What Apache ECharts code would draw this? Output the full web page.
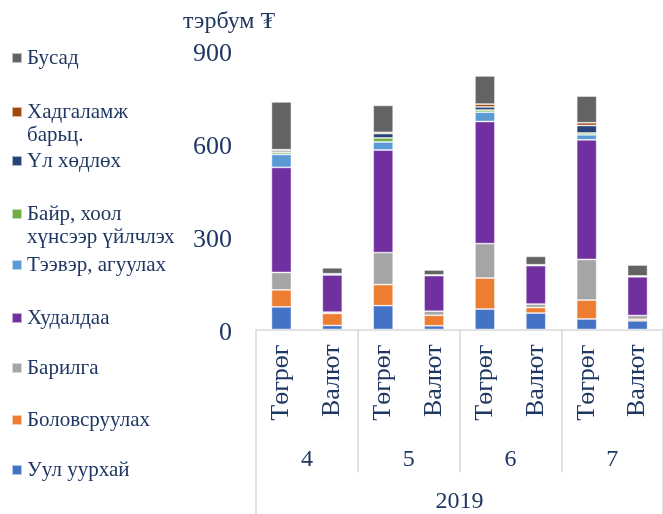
<!DOCTYPE html>
<html>
<head>
<meta charset="utf-8">
<script src="https://cdn.jsdelivr.net/npm/echarts@6/dist/echarts.min.js"></script>
<style>
  html, body { margin: 0; padding: 0; background: #fff; }
  #chart { width: 663px; height: 514px; }
</style>
</head>
<body>
<div id="chart"></div>
<script>
var categories = ['Төгрөг', 'Валют', 'Төгрөг', 'Валют', 'Төгрөг', 'Валют', 'Төгрөг', 'Валют'];
var months = ['4', '5', '6', '7'];
var years = ['2019'];
var yTicks = [0, 300, 600, 900];

// stacked from bottom to top
var seriesNames = ['Уул уурхай', 'Боловсруулах', 'Барилга', 'Худалдаа', 'Тээвэр, агуулах',
    'Байр, хоол хүнсээр үйлчлэх', 'Үл хөдлөх', 'Хадгаламж барьц.', 'Бусад'];
var uulUurhai   = [73, 13, 77, 12, 66, 53, 34, 28];
var bolovsruulah = [55, 39, 68, 34, 100, 18, 61, 5];
var barilga     = [56, 4, 103, 13, 111, 11, 131, 12];
var hudaldaa    = [339, 120, 331, 115, 394, 124, 386, 125];
var teever      = [42, 4, 26, 2, 30, 3, 16, 3];
var bair        = [6, 0, 13, 0, 7, 0, 6, 0];
var ulHudluh    = [5, 0, 14, 0, 10, 0, 24, 0];
var hadgalamj   = [4, 0, 4, 0, 9, 0, 9, 0];
var busad       = [154, 19, 87, 16, 91, 27, 86, 35];
var seriesValues = [uulUurhai, bolovsruulah, barilga, hudaldaa, teever, bair, ulHudluh, hadgalamj, busad];

var colors = ['#4472C4', '#ED7D31', '#A5A5A5', '#7030A0', '#5B9BD5', '#70AD47', '#264478', '#9E480E', '#636363'];
var font = "'Liberation Serif', 'DejaVu Serif', serif";
var textColor = '#1f3763';
var lineColor = '#d9d9d9';

var series = seriesNames.map(function (name, i) {
    return {
        name: name,
        type: 'bar',
        stack: 'total',
        barWidth: 20,
        data: seriesValues[i],
        itemStyle: {
            color: colors[i],
            borderColor: 'rgba(255,255,255,0.6)',
            borderWidth: 0.8
        }
    };
});

// legend, top item first (reverse of stack order)
var legendOrder = seriesNames.slice().reverse();
var legendCenters = [58, 112, 161, 214, 265, 318, 368, 420, 470];
// a blank first line keeps the marker level with the first line of text
var wrapped = {
    'Хадгаламж барьц.': ' \nХадгаламж\nбарьц.',
    'Байр, хоол хүнсээр үйлчлэх': ' \nБайр, хоол\nхүнсээр үйлчлэх'
};
var legends = legendOrder.map(function (name, i) {
    var twoLines = !!wrapped[name];
    return {
        data: [name],
        left: 11,
        top: legendCenters[i] - (twoLines ? 34.5 : 11.5),
        padding: 0,
        itemWidth: 10,
        itemHeight: 10,
        selectedMode: false,
        icon: 'rect',
        formatter: function (n) { return wrapped[n] || n; },
        textStyle: {
            fontFamily: font,
            fontSize: 21,
            color: textColor,
            lineHeight: 23
        }
    };
});

var myChart = echarts.init(document.getElementById('chart'));
var option = {
    animation: false,
    title: {
        text: 'тэрбум ₮',
        left: 178,
        top: 5,
        textStyle: { fontFamily: font, fontSize: 24, fontWeight: 'normal', color: textColor }
    },
    legend: legends,
    grid: { left: 256, right: -3, top: 50.5, bottom: 184.5, containLabel: false },
    xAxis: [
        {
            type: 'category',
            data: categories,
            axisLine: { lineStyle: { color: lineColor, width: 1.5 } },
            axisTick: { show: false },
            axisLabel: {
                rotate: 90,
                margin: 15,
                fontFamily: font,
                fontSize: 26,
                color: textColor,
                interval: 0
            }
        },
        {
            type: 'category',
            data: months,
            position: 'bottom',
            axisLine: { show: false },
            axisTick: { show: true, length: 143, lineStyle: { color: lineColor, width: 1.5 } },
            axisLabel: { margin: 118, fontFamily: font, fontSize: 24, color: textColor }
        },
        {
            type: 'category',
            data: years,
            position: 'bottom',
            axisLine: { show: false },
            axisTick: { show: true, length: 190, lineStyle: { color: lineColor, width: 1.5 } },
            axisLabel: { margin: 160, fontFamily: font, fontSize: 24, color: textColor }
        }
    ],
    yAxis: {
        type: 'value',
        min: yTicks[0],
        max: yTicks[yTicks.length - 1],
        interval: yTicks[1] - yTicks[0],
        axisLine: { show: false },
        axisTick: { show: false },
        splitLine: { show: false },
        axisLabel: {
            margin: 24,
            fontFamily: font,
            fontSize: 26,
            color: textColor,
            verticalAlign: 'top',
            lineHeight: 7
        }
    },
    series: series
};
myChart.setOption(option);
</script>
</body>
</html>
